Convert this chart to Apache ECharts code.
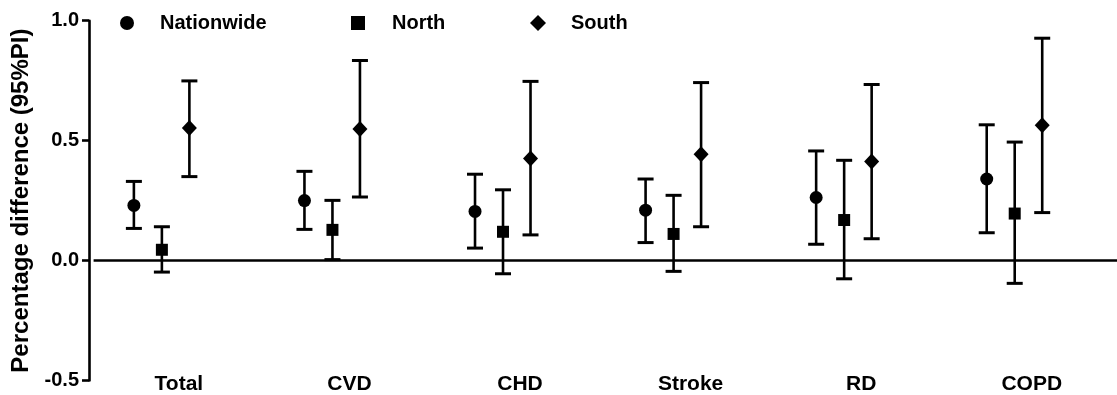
<!DOCTYPE html>
<html lang="en">
<head>
    <meta charset="UTF-8">
    <title>Percentage difference</title>
    <style>
        html, body { margin: 0; padding: 0; background: #fff; }
        #main { width: 1117px; height: 395px; }
    </style>
</head>
<body>
<div id="main"></div>
<script src="https://cdn.jsdelivr.net/npm/echarts@6/dist/echarts.min.js"></script>
<script type="text/javascript">
    // categories and estimates (point, lower and upper 95% PI)
    var categories = ['Total', 'CVD', 'CHD', 'Stroke', 'RD', 'COPD'];
    var nationwide     = [0.230, 0.250, 0.205, 0.210, 0.263, 0.340];
    var nationwideLow  = [0.134, 0.130, 0.052, 0.075, 0.068, 0.116];
    var nationwideHigh = [0.330, 0.372, 0.360, 0.340, 0.457, 0.566];
    var north     = [0.045, 0.128, 0.120, 0.111, 0.169, 0.196];
    var northLow  = [-0.048, 0.004, -0.055, -0.045, -0.076, -0.095];
    var northHigh = [0.141, 0.251, 0.295, 0.272, 0.418, 0.494];
    var south     = [0.553, 0.549, 0.426, 0.443, 0.413, 0.564];
    var southLow  = [0.350, 0.265, 0.107, 0.141, 0.091, 0.200];
    var southHigh = [0.749, 0.834, 0.747, 0.742, 0.734, 0.927];
    var yTicks = [-0.5, 0.0, 0.5, 1.0];

    var font = 'Liberation Sans';
    var myChart = echarts.init(document.getElementById('main'));

    function pairs(lo, hi) {
        var out = [];
        for (var i = 0; i < lo.length; i++) {
            out.push([i, lo[i], hi[i]]);
        }
        return out;
    }

    // error bar with whiskers, shifted sideways by dx pixels
    function errorBar(dx) {
        return function (params, api) {
            var c = api.value(0);
            var x = api.coord([c, 0])[0] + dx;
            var yLo = api.coord([c, api.value(1)])[1];
            var yHi = api.coord([c, api.value(2)])[1];
            var half = 8;
            return {
                type: 'group',
                children: [
                    { type: 'line', shape: { x1: x, y1: yHi, x2: x, y2: yLo }, style: { stroke: '#000', lineWidth: 2.6 } },
                    { type: 'line', shape: { x1: x - half, y1: yHi, x2: x + half, y2: yHi }, style: { stroke: '#000', lineWidth: 3 } },
                    { type: 'line', shape: { x1: x - half, y1: yLo, x2: x + half, y2: yLo }, style: { stroke: '#000', lineWidth: 3 } }
                ]
            };
        };
    }

    var offN = -45, offNo = -17, offS = 10.5;
    var legendText = { fontFamily: font, fontWeight: 700, fontSize: 20, color: '#000' };

    var option = {
        backgroundColor: '#fff',
        animation: false,
        grid: { left: 93.6, right: -13.4, top: 20.7, bottom: 12.3, containLabel: false },
        legend: [
            { data: ['Nationwide'], left: 115, top: 8, itemWidth: 14, itemHeight: 14,
              textStyle: Object.assign({ padding: [0, 0, 0, 21] }, legendText) },
            { data: ['North'], left: 346, top: 8, itemWidth: 14, itemHeight: 14,
              textStyle: Object.assign({ padding: [0, 0, 0, 22] }, legendText) },
            { data: ['South'], left: 525, top: 8, itemWidth: 16, itemHeight: 16,
              textStyle: Object.assign({ padding: [0, 0, 0, 20] }, legendText) }
        ],
        xAxis: {
            type: 'category',
            data: categories,
            axisLine: { show: false, onZero: false },
            axisTick: { show: false },
            splitLine: { show: false },
            axisLabel: {
                margin: 4,
                verticalAlign: 'middle',
                fontFamily: font, fontWeight: 700, fontSize: 21, color: '#000'
            }
        },
        yAxis: {
            type: 'value',
            min: yTicks[0],
            max: yTicks[yTicks.length - 1],
            interval: 0.5,
            offset: 4.6,
            name: 'Percentage difference (95%PI)',
            nameLocation: 'middle',
            nameGap: 52,
            nameTextStyle: { fontFamily: font, fontWeight: 700, fontSize: 24, color: '#000' },
            axisLine: { show: true, lineStyle: { color: '#000', width: 2.6 } },
            axisTick: { show: true, inside: false, length: 7, lineStyle: { color: '#000', width: 2.6 } },
            splitLine: { show: false },
            axisLabel: {
                margin: 10,
                fontFamily: font, fontWeight: 700, fontSize: 20, color: '#000',
                formatter: function (v) { return v.toFixed(1); }
            }
        },
        series: [
            { name: 'Nationwide bar', type: 'custom', renderItem: errorBar(offN),
              encode: { x: 0, y: [1, 2] }, data: pairs(nationwideLow, nationwideHigh), z: 2 },
            { name: 'North bar', type: 'custom', renderItem: errorBar(offNo),
              encode: { x: 0, y: [1, 2] }, data: pairs(northLow, northHigh), z: 2 },
            { name: 'South bar', type: 'custom', renderItem: errorBar(offS),
              encode: { x: 0, y: [1, 2] }, data: pairs(southLow, southHigh), z: 2 },
            {
                name: 'Nationwide', type: 'scatter', data: nationwide,
                symbol: 'circle', symbolSize: 13, symbolOffset: [offN, 0],
                itemStyle: { color: '#000', opacity: 1 }, z: 5,
                markLine: {
                    silent: true, symbol: 'none', label: { show: false },
                    lineStyle: { color: '#000', width: 2.6, type: 'solid' },
                    data: [{ yAxis: 0 }]
                }
            },
            {
                name: 'North', type: 'scatter', data: north,
                symbol: 'rect', symbolSize: 12, symbolOffset: [offNo, 0],
                itemStyle: { color: '#000', opacity: 1 }, z: 5
            },
            {
                name: 'South', type: 'scatter', data: south,
                symbol: 'diamond', symbolSize: [15, 16], symbolOffset: [offS, 0],
                itemStyle: { color: '#000', opacity: 1 }, z: 5
            }
        ]
    };

    myChart.setOption(option);
    window.addEventListener('resize', function () {
        myChart.resize();
    });
</script>
</body>
</html>
